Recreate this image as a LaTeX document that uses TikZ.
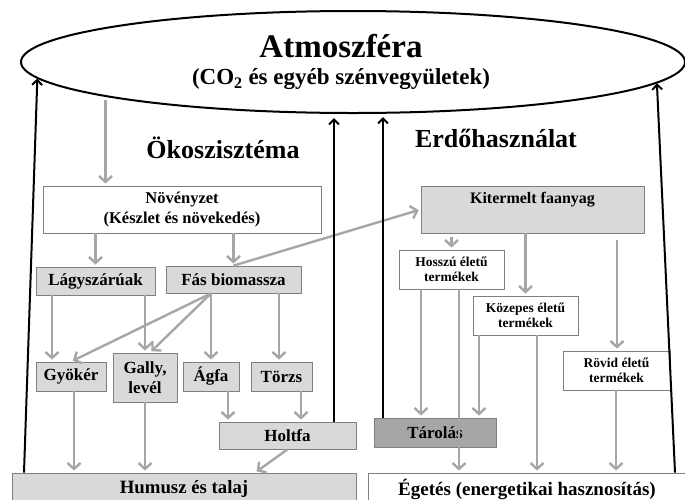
\documentclass[tikz,border=0pt]{standalone}
\usepackage{fontspec}
\setmainfont{Liberation Serif}
\usetikzlibrary{shapes.geometric,arrows.meta}
\definecolor{boxline}{HTML}{7F7F7F}
\definecolor{boxfill}{HTML}{D9D9D9}
\definecolor{storefill}{HTML}{A6A6A6}
\definecolor{flowgray}{HTML}{A6A6A6}
\tikzset{
  pool/.style={draw=boxline, line width=0.8pt, fill=boxfill, inner sep=0pt, align=center,
    font=\bfseries\fontsize{17}{20}\selectfont},
  product/.style={pool, fill=white, font=\bfseries\fontsize{13.5}{15}\selectfont},
  flow/.style={draw=flowgray, line width=2.4pt, -{Straight Barb[length=6pt,width=13pt]}, shorten >=2pt},
  emit/.style={draw=black, line width=2pt, -{Straight Barb[length=5pt,width=10pt]}},
}
\begin{document}
\begin{tikzpicture}[x=1pt,y=-1pt]
\useasboundingbox (0,0) rectangle (685,499);

% atmosphere
\node[ellipse,draw,line width=2pt,inner sep=0pt,minimum width=664pt,minimum height=102pt] (atm) at (353,62) {};
\node[font=\bfseries\fontsize{33}{36}\selectfont] (atmtitle) at (341,46) {Atmoszféra};
\node[font=\bfseries\fontsize{23}{26}\selectfont] (atmsub) at (341,79) {(CO\textsubscript{2} és egyéb szénvegyületek)};

\node[font=\bfseries\fontsize{26}{30}\selectfont] (eco) at (223,148) {Ökoszisztéma};
\node[font=\bfseries\fontsize{26}{30}\selectfont] (forest) at (496,138) {Erdőhasználat};

% ecosystem side
\node[pool,fill=white,font=\bfseries\fontsize{16.5}{20}\selectfont,minimum width=278pt,minimum height=47pt] (nov) at (182,209.5) {Növényzet\\(Készlet és növekedés)};
\node[pool,minimum width=119pt,minimum height=28pt] (lagy) at (95.5,281) {Lágyszárúak};
\node[pool,minimum width=135pt,minimum height=27pt] (fas) at (233.5,279.5) {Fás biomassza};
\node[pool,minimum width=70pt,minimum height=29pt] (gyoker) at (71,376.5) {Gyökér};
\node[pool,minimum width=64pt,minimum height=49pt] (gally) at (145,377.5) {Gally,\\levél};
\node[pool,minimum width=56pt,minimum height=29pt] (agfa) at (211,376.5) {Ágfa};
\node[pool,minimum width=61pt,minimum height=29pt] (torzs) at (281.5,376.5) {Törzs};
\node[pool,minimum width=137pt,minimum height=27pt] (holtfa) at (287.5,435.5) {Holtfa};
\node[pool,font=\bfseries\fontsize{18.8}{22}\selectfont,minimum width=344pt,minimum height=32pt] (humusz) at (184,489) {Humusz és talaj};

% forest use side
\node[pool,font=\bfseries\fontsize{16}{19}\selectfont,minimum width=223pt,minimum height=47pt,text height=11pt,text depth=24pt] (kit) at (532.5,209.5) {Kitermelt faanyag};
\node[product,minimum width=105pt,minimum height=39pt] (hossz) at (451.5,269.5) {Hosszú életű\\termékek};
\node[product,minimum width=105pt,minimum height=39pt] (kozep) at (525.5,315.5) {Közepes életű\\termékek};
\node[product,minimum width=107pt,minimum height=39pt] (rovid) at (616.5,370.5) {Rövid életű\\termékek};
\node[pool,fill=storefill,minimum width=122pt,minimum height=29pt] (tarol) at (435,432.5) {Tárolás};
\node[pool,fill=white,font=\bfseries\fontsize{19}{22}\selectfont,minimum width=318pt,minimum height=32pt] (eget) at (527,489) {Égetés (energetikai hasznosítás)};

% carbon flows
\draw[flow,shorten <=3pt] (atm.188) -- (nov.north -| atm.188);
\draw[flow] (nov.south -| lagy) -- (lagy.north);
\draw[flow] (nov.south -| fas) -- (fas.north);
\draw[flow] (fas.north) -- (kit.west);
\draw[flow] (lagy.south -| 52,0) -- (gyoker.north -| 52,0);
\draw[flow] (lagy.south -| gally) -- (gally.north);
\draw[flow] (fas.south -| agfa) -- (gyoker.north);
\draw[flow] (fas.south -| agfa) -- (gally.north -| 150,0);
\draw[flow] (fas.south -| agfa) -- (agfa.north);
\draw[flow] (fas.south -| 279,0) -- (torzs.north -| 279,0);
\draw[flow] (gyoker.south -| 74,0) -- (humusz.north -| 74,0);
\draw[flow] (gally.south) -- (humusz.north -| gally);
\draw[flow] (agfa.south -| 228,0) -- (holtfa.north -| 228,0);
\draw[flow] (torzs.south -| 301,0) -- (holtfa.north -| 301,0);
\draw[flow] (holtfa.south) -- (humusz.north -| 255,0);

\draw[flow,shorten <=4pt] (kit.south -| hossz) -- (hossz.north);
\draw[flow] (kit.south -| kozep) -- (kozep.north);
\draw[flow,shorten <=7pt] (kit.south -| 617,0) -- (rovid.north -| 617,0);
\draw[flow] (hossz.south -| 421,0) -- (tarol.north -| 421,0);
\draw[flow] (hossz.south -| 459,0) -- (eget.north -| 459,0);
\draw[flow] (kozep.south -| 479,0) -- (tarol.north -| 479,0);
\draw[flow] (kozep.south -| 537,0) -- (eget.north -| 537,0);
\draw[flow] (rovid.south -| 616,0) -- (eget.north -| 616,0);

% back to the atmosphere
\draw[emit] (humusz.north -| 24,0) -- (atm.183);
\draw[emit] (eget.north -| 675,0) -- (atm.356);
\draw[emit,shorten >=4pt] (holtfa.north -| 334,0) -- (334,0 |- atm.south);
\draw[emit,shorten >=3pt] (tarol.north -| 383,0) -- (383,0 |- atm.south);
\end{tikzpicture}
\end{document}
